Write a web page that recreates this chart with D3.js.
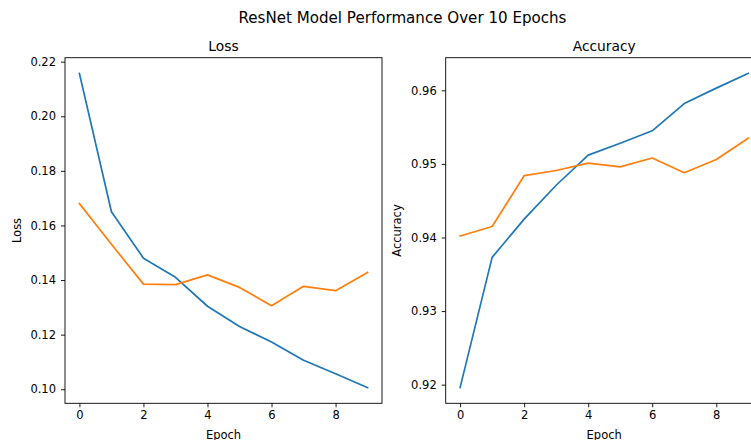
<!DOCTYPE html>
<html><head><meta charset="utf-8">
<script src="https://cdn.jsdelivr.net/npm/d3@7"></script>
<style>
html,body{margin:0;padding:0;background:#fff;overflow:hidden;}
svg{display:block;font-family:"DejaVu Sans",sans-serif;}
</style></head><body>
<svg id="c" width="751" height="440"></svg>
<script>
const epochs = [0,1,2,3,4,5,6,7,8,9];
const trainLoss = [0.2157,0.1650,0.1480,0.1410,0.1304,0.1230,0.1173,0.1106,0.1057,0.1006];
const valLoss   = [0.1680,0.1531,0.1385,0.1383,0.1419,0.1373,0.1306,0.1377,0.1361,0.1428];
const trainAcc  = [0.9196,0.9373,0.9425,0.9471,0.9512,0.9528,0.9545,0.9582,0.9603,0.9623];
const valAcc    = [0.9402,0.9415,0.9484,0.9491,0.9501,0.9496,0.9508,0.9488,0.9506,0.9535];
const lossTicks = [0.10,0.12,0.14,0.16,0.18,0.20,0.22];
const accTicks  = [0.92,0.93,0.94,0.95,0.96];
const xTicks = [0,2,4,6,8];
const colors = ["#1f77b4","#ff7f0e"];

const svg = d3.select("#c");
svg.append("text").attr("x",402.5).attr("y",23).attr("text-anchor","middle")
  .attr("font-size","15.1px").attr("fill","#000").text("ResNet Model Performance Over 10 Epochs");

function panel(left, top, w, h, series, yTicks, fmt, title, ylab, ylabX){
  const g = svg.append("g").attr("transform",`translate(${left},${top})`);
  const x = d3.scaleLinear().domain([-0.45, 9.45]).range([0,w]);
  const all = series.flat();
  const mn = d3.min(all), mx = d3.max(all), pad = (mx-mn)*0.05;
  const y = d3.scaleLinear().domain([mn-pad, mx+pad]).range([h,0]);
  const line = d3.line().x((d,i)=>x(epochs[i])).y(d=>y(d));
  series.forEach((s,i)=>{
    g.append("path").datum(s).attr("d",line).attr("fill","none")
      .attr("stroke",colors[i]).attr("stroke-width",1.7).attr("stroke-linejoin","round").attr("stroke-linecap","square");
  });
  const xa = g.append("g").attr("transform",`translate(0,${h})`)
    .call(d3.axisBottom(x).tickValues(xTicks).tickFormat(d3.format("d")).tickSize(4).tickPadding(4).tickSizeOuter(0));
  const ya = g.append("g")
    .call(d3.axisLeft(y).tickValues(yTicks).tickFormat(fmt).tickSize(4).tickPadding(5).tickSizeOuter(0));
  [xa,ya].forEach(a=>{
    a.select(".domain").remove();
    a.selectAll("line").attr("stroke","#000").attr("stroke-width",0.9);
    a.selectAll("text").attr("font-size","11.5px").attr("fill","#000").attr("font-family","DejaVu Sans");
  });
  g.append("rect").attr("width",w).attr("height",h).attr("fill","none").attr("stroke","#000").attr("stroke-width",0.9);
  g.append("text").attr("x",w/2).attr("y",-7).attr("text-anchor","middle").attr("font-size","13.8px").attr("fill","#000").text(title);
  g.append("text").attr("x",w/2).attr("y",h+36).attr("text-anchor","middle").attr("font-size","11.5px").attr("fill","#000").text("Epoch");
  svg.append("text").attr("transform",`translate(${ylabX},${top+h/2}) rotate(-90)`).attr("text-anchor","middle")
    .attr("dy","0.35em").attr("font-size","11.5px").attr("fill","#000").text(ylab);
}
panel(65, 57.7, 317, 345.6, [trainLoss,valLoss], lossTicks, d3.format(".2f"), "Loss", "Loss", 16.7);
panel(445.7, 57.7, 317, 345.6, [trainAcc,valAcc], accTicks, d3.format(".2f"), "Accuracy", "Accuracy", 396.7);
</script></body></html>
